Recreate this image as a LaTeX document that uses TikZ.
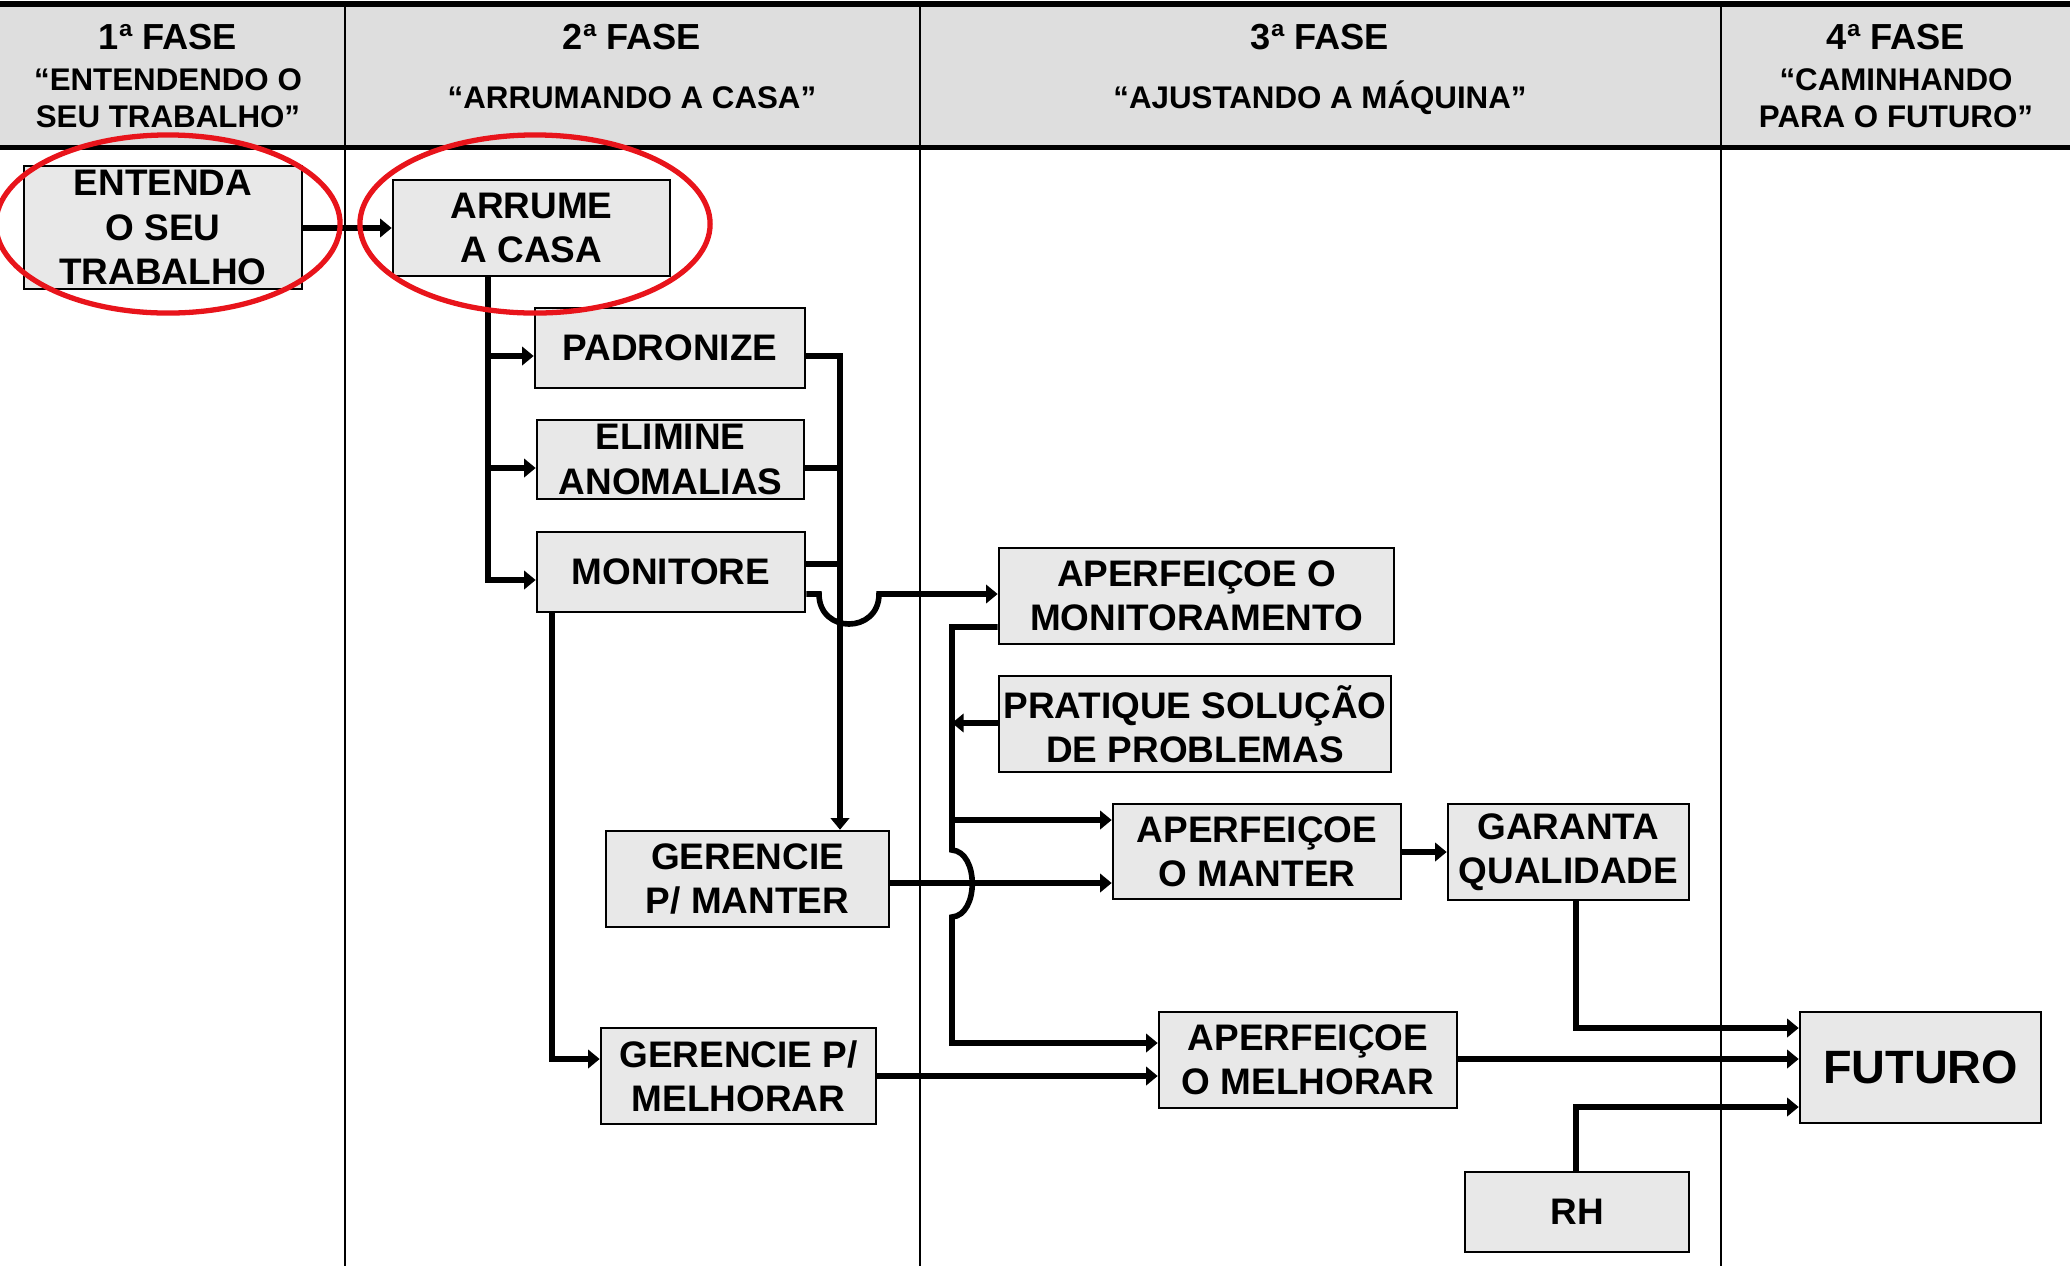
\documentclass[tikz,border=0pt]{standalone}
\usepackage{fontspec}
\setmainfont{Liberation Sans}
\usetikzlibrary{arrows.meta}
\definecolor{boxgray}{HTML}{E8E8E8}
\definecolor{headgray}{HTML}{DEDEDE}
\definecolor{ringred}{HTML}{E8141B}
\begin{document}
\begin{tikzpicture}[x=0.01cm,y=-0.01cm,
  box/.style={draw=black, line width=0.7pt, fill=boxgray, inner sep=0pt, align=center,
    font=\bfseries\fontsize{10.5}{12.6}\selectfont},
  bigbox/.style={box, font=\bfseries\fontsize{13.3}{16}\selectfont},
  ph/.style={inner sep=0pt, align=center, font=\bfseries\fontsize{10.3}{12}\selectfont},
  sub/.style={inner sep=0pt, align=center, font=\bfseries\fontsize{8.9}{10.5}\selectfont},
  conn/.style={line width=1.6pt, -{Triangle[length=3.3pt,width=5.2pt]}},
  plain/.style={line width=1.6pt},
  ring/.style={draw=ringred, line width=1.5pt}]
\useasboundingbox (0,0) rectangle (2070,1266);
% header
\fill[headgray] (0,7) rectangle (2070,145);
\draw[line width=1.7pt] (0,4) -- (2070,4);
\draw[line width=1.7pt] (0,147.5) -- (2070,147.5);
\draw[line width=0.55pt] (345,7) -- (345,1266);
\draw[line width=0.55pt] (920,7) -- (920,1266);
\draw[line width=0.55pt] (1721,7) -- (1721,1266);
\node[ph] (p1) at (168,37) {1ª FASE};
\node[sub] (s1) at (168,98.5) {“ENTENDENDO O\\SEU TRABALHO”};
\node[ph] (p2) at (632,37) {2ª FASE};
\node[sub] (s2) at (632,98) {“ARRUMANDO A CASA”};
\node[ph] (p3) at (1320,37) {3ª FASE};
\node[sub] (s3) at (1320,98) {“AJUSTANDO A MÁQUINA”};
\node[ph] (p4) at (1896,37) {4ª FASE};
\node[sub] (s4) at (1896,98.5) {“CAMINHANDO\\PARA O FUTURO”};
% boxes
\node[box, minimum width=2.78cm, minimum height=1.23cm] (ent) at (163,227.5) {ENTENDA\\O SEU\\TRABALHO};
\node[box, minimum width=2.77cm, minimum height=0.96cm] (arr) at (531.5,228) {ARRUME\\A CASA};
\node[box, minimum width=2.70cm, minimum height=0.80cm] (pad) at (670,348) {PADRONIZE};
\node[box, minimum width=2.67cm, minimum height=0.79cm] (eli) at (670.5,459.5) {ELIMINE\\ANOMALIAS};
\node[box, minimum width=2.68cm, minimum height=0.80cm] (mon) at (671,572) {MONITORE};
\node[box, minimum width=3.95cm, minimum height=0.96cm] (apm) at (1196.5,596) {APERFEIÇOE O\\MONITORAMENTO};
\node[box, minimum width=3.92cm, minimum height=0.96cm] (pra) at (1195,724) {PRATIQUE SOLUÇÃO\\DE PROBLEMAS};
\node[box, minimum width=2.83cm, minimum height=0.96cm] (gpm) at (747.5,879) {GERENCIE\\P/ MANTER};
\node[box, minimum width=2.88cm, minimum height=0.95cm] (apma) at (1257,851.5) {APERFEIÇOE\\O MANTER};
\node[box, minimum width=2.41cm, minimum height=0.96cm] (gar) at (1568.5,852) {GARANTA\\QUALIDADE};
\node[box, minimum width=2.75cm, minimum height=0.96cm] (gpme) at (738.5,1076) {GERENCIE P/\\MELHORAR};
\node[box, minimum width=2.98cm, minimum height=0.96cm] (apme) at (1308,1060) {APERFEIÇOE\\O MELHORAR};
\node[bigbox, minimum width=2.41cm, minimum height=1.11cm] (fut) at (1920.5,1067.5) {FUTURO};
\node[box, minimum width=2.24cm, minimum height=0.80cm] (rh) at (1577,1212) {RH};
% connectors
\draw[conn] (ent.east |- 0,228) -- (arr.west |- 0,228);
\draw[conn] (arr.south -| 488,0) -- (488,580) -- (mon.west |- 0,580);
\draw[conn] (488,356) -- (pad.west |- 0,356);
\draw[conn] (488,468) -- (eli.west |- 0,468);
\draw[conn] (pad.east |- 0,356) -- (840,356) -- (gpm.north -| 840,0);
\draw[plain] (eli.east |- 0,468) -- (840,468);
\draw[plain] (mon.east |- 0,564) -- (840,564);
\draw[conn] (mon.east |- 0,594) -- (819,594) .. controls (819,634) and (879,634) .. (879,594) -- (apm.west |- 0,594);
\draw[conn] (apm.west |- 0,627) -- (952,627) -- (952,850) .. controls (979,852) and (979,915) .. (952,917) -- (952,1043) -- (apme.west |- 0,1043);
\draw[conn] (952,820) -- (apma.west |- 0,820);
\draw[conn] (pra.west |- 0,723) -- (952,723);
\draw[conn] (gpm.east |- 0,883) -- (apma.west |- 0,883);
\draw[conn] (apma.east |- 0,852) -- (gar.west |- 0,852);
\draw[conn] (gar.south -| 1576,0) -- (1576,1028) -- (fut.west |- 0,1028);
\draw[conn] (apme.east |- 0,1059) -- (fut.west |- 0,1059);
\draw[conn] (gpme.east |- 0,1076) -- (apme.west |- 0,1076);
\draw[conn] (mon.south -| 552,0) -- (552,1059) -- (gpme.west |- 0,1059);
\draw[conn] (rh.north -| 1576,0) -- (1576,1107) -- (fut.west |- 0,1107);
% red rings
\draw[ring] (168,224) ellipse [x radius=1.72cm, y radius=0.89cm];
\draw[ring] (535,224) ellipse [x radius=1.75cm, y radius=0.89cm];
\end{tikzpicture}
\end{document}
